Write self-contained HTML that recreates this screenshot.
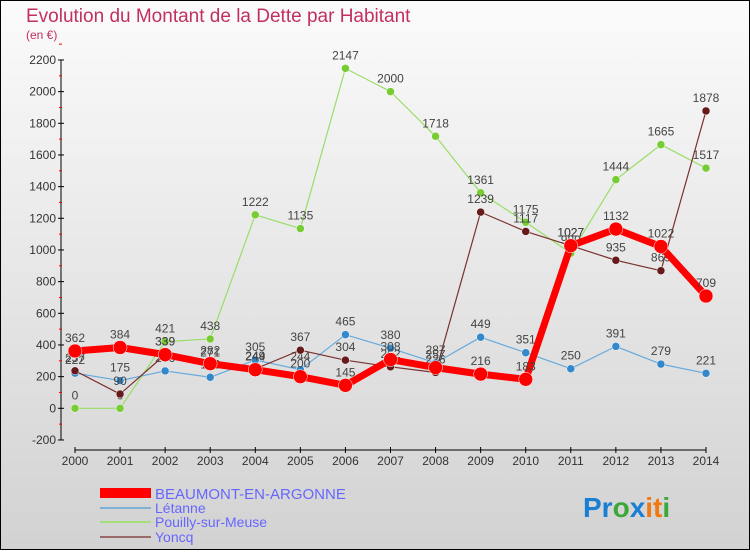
<!DOCTYPE html>
<html><head><meta charset="utf-8"><style>
body{margin:0;width:750px;height:550px;overflow:hidden}
svg text{font-family:"Liberation Sans",sans-serif}
</style></head><body>
<svg id="c" width="750" height="550" xmlns="http://www.w3.org/2000/svg">
<defs><linearGradient id="bg" x1="0" y1="0" x2="0" y2="1"><stop offset="0" stop-color="#fbfbfb"/><stop offset="1" stop-color="#d2d2d2"/></linearGradient></defs>
<rect x="0.5" y="0.5" width="749" height="549" fill="url(#bg)" stroke="#000"/>
<text x="26" y="22" font-size="19" fill="#c2305e">Evolution du Montant de la Dette par Habitant</text>
<text x="26" y="39" font-size="12" fill="#c2305e">(en €)</text>
<g id="axes"></g><g id="series"></g>
<g>
<rect x="100" y="488" width="51" height="10" fill="#f00"/>
<text x="155" y="499" font-size="15" fill="#6666ff">BEAUMONT-EN-ARGONNE</text>
<rect x="100" y="507" width="51" height="2" fill="#7fb0d6"/>
<text x="155" y="513" font-size="14" fill="#6666ff">Létanne</text>
<rect x="100" y="521" width="51" height="2" fill="#a3e07a"/>
<text x="155" y="527" font-size="14" fill="#6666ff">Pouilly-sur-Meuse</text>
<rect x="100" y="536" width="51" height="2" fill="#9a6a6a"/>
<text x="155" y="542" font-size="14" fill="#6666ff">Yoncq</text>
</g>
<text x="583" y="517" font-size="28" font-weight="bold"><tspan fill="#1a7fd4">Pr</tspan><tspan fill="#3aa83a">o</tspan><tspan fill="#1a7fd4">x</tspan><tspan fill="#f07a10">it</tspan><tspan fill="#3aa83a">i</tspan></text>
</svg>
<script>
const years=[2000,2001,2002,2003,2004,2005,2006,2007,2008,2009,2010,2011,2012,2013,2014];
const yTicks=[-200,0,200,400,600,800,1000,1200,1400,1600,1800,2000,2200];
const beaumont=[362,384,339,282,244,200,145,308,257,216,183,1027,1132,1022,709];
const letanne=[222,175,236,196,305,244,465,380,287,449,351,250,391,279,221];
const pouilly=[0,0,421,438,1222,1135,2147,2000,1718,1361,1175,980,1444,1665,1517];
const yoncq=[237,90,339,271,249,367,304,262,226,1239,1117,1027,935,869,1878];
const NS="http://www.w3.org/2000/svg";
const X=i=>75+i*(706-75)/(years.length-1);
const Y=v=>408.3-v*(380/2400);
function mk(t,a,p){const e=document.createElementNS(NS,t);for(const k in a)e.setAttribute(k,a[k]);p.appendChild(e);return e;}
const ax=document.getElementById('axes');
const yl=mk('line',{x1:61,y1:Y(2200),x2:61,y2:Y(-200),stroke:'#000'},ax);


yTicks.forEach(v=>{
 mk('line',{x1:58,x2:64,y1:Y(v),y2:Y(v),stroke:'#000'},ax);
 mk('line',{x1:59,x2:62,y1:Y(v+100),y2:Y(v+100),stroke:'#f00'},ax);
 const t=mk('text',{x:56,y:Y(v)+4,'font-size':12,fill:'#333','text-anchor':'end'},ax);
 t.textContent=v;
 
 
});
const xl=mk('line',{x1:X(0),y1:450,x2:X(14),y2:450,stroke:'#000'},ax);


years.forEach((y,i)=>{
 mk('line',{x1:X(i),x2:X(i),y1:447,y2:453,stroke:'#000'},ax);
 const t=mk('text',{x:X(i),y:465,'font-size':12,fill:'#333','text-anchor':'middle'},ax);
 t.textContent=y;
 
 
});
const sg=document.getElementById('series');
function series(name,data,color,w,r,dot){
 const g=mk('g',{},sg);
 
 
 const pl=mk('polyline',{points:data.map((v,i)=>X(i)+','+Y(v)).join(' '),fill:'none',stroke:color,'stroke-width':w,'stroke-linejoin':'round'},g);
 
 
 data.forEach((v,i)=>{
  const c=mk('circle',{cx:X(i),cy:Y(v),r:r,fill:dot,stroke:'#fff','stroke-width':0.5},g);
  
  
  const t=mk('text',{x:X(i),y:Y(v)-9,'font-size':12,fill:'#444','text-anchor':'middle'},g);
  t.textContent=v;
  
  
 });
}
series('pouilly',pouilly,'#99dd66',1.2,4,'#77cc33');
series('letanne',letanne,'#66aadd',1.2,4,'#3388cc');
series('yoncq',yoncq,'#7a3030',1.2,4,'#661a1a');
series('beaumont',beaumont,'#ff0000',7,7,'#ff0000');
</script>
</body></html>
